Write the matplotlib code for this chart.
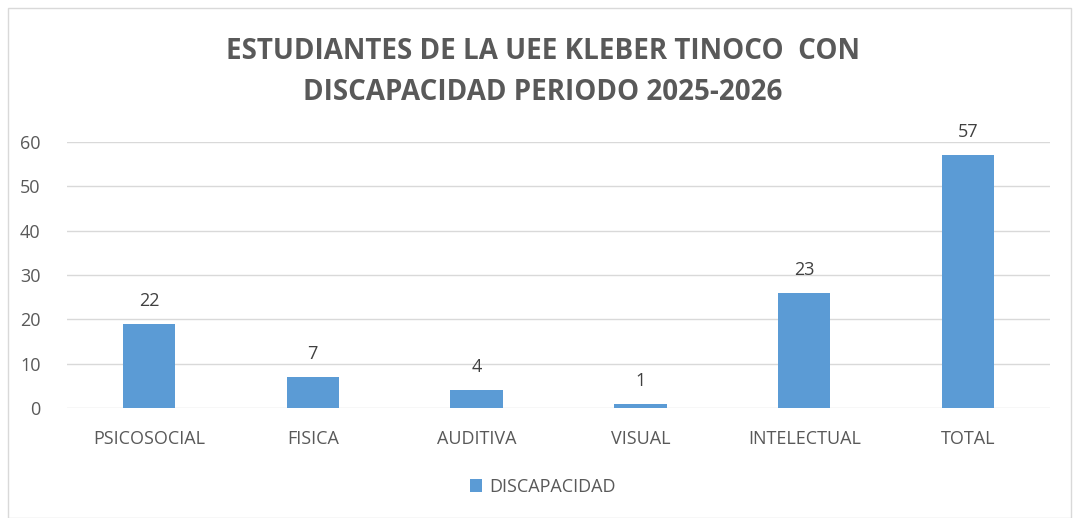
import matplotlib
matplotlib.use("Agg")
import matplotlib.pyplot as plt
from matplotlib.patches import Rectangle

categories = ["PSICOSOCIAL", "FISICA", "AUDITIVA", "VISUAL", "INTELECTUAL", "TOTAL"]
bar_values = [19, 7, 4, 1, 26, 57]
label_texts = ["22", "7", "4", "1", "23", "57"]
series_name = "DISCAPACIDAD"
title = "ESTUDIANTES DE LA UEE KLEBER TINOCO  CON\nDISCAPACIDAD PERIODO 2025-2026"

plt.rcParams['font.family'] = ['Open Sans', 'DejaVu Sans']
gray = "#595959"
blue = "#5B9BD5"

fig = plt.figure(figsize=(10.75, 5.18), dpi=100)
W, H = 1075, 518
# chart border
fig.patches.append(Rectangle((8 / W, 0), (1071 - 8) / W, (518 - 8) / H, transform=fig.transFigure,
                             fill=False, edgecolor="#d9d9d9", linewidth=1))

ax = fig.add_axes([67 / W, (H - 408) / H, (1050 - 67) / W, (408 - 142) / H])
x = list(range(len(categories)))
bars = ax.bar(x, bar_values, width=0.32, color=blue, label=series_name, zorder=3)
ax.set_xlim(-0.5, len(categories) - 0.5)
ax.set_ylim(0, 60)
ax.set_yticks(range(0, 61, 10))
ax.set_xticks(x)
ax.set_xticklabels(categories)
ax.tick_params(axis='both', length=0, labelsize=13, colors=gray)
ax.tick_params(axis='y', pad=19)
ax.tick_params(axis='x', pad=16)
ax.grid(axis='y', color="#d9d9d9", linewidth=1, zorder=0)
for s in ax.spines.values():
    s.set_visible(False)

for b, t in zip(bars, label_texts):
    ax.annotate(t, (b.get_x() + b.get_width() / 2, b.get_height()), xytext=(0, 10),
                textcoords="offset points", ha="center", va="bottom", fontsize=13, color="#404040")

fig.text(543 / W, 1 - 72 / H, title, ha="center", va="center", fontsize=20, fontweight="bold",
         color=gray, linespacing=1.55)

leg = fig.legend(loc="center", bbox_to_anchor=(543 / W, 1 - 487 / H), frameon=False, fontsize=13,
                 handlelength=0.7, handleheight=0.7, handletextpad=0.4)
for t in leg.get_texts():
    t.set_color(gray)

fig.savefig("out.png", dpi=100)
